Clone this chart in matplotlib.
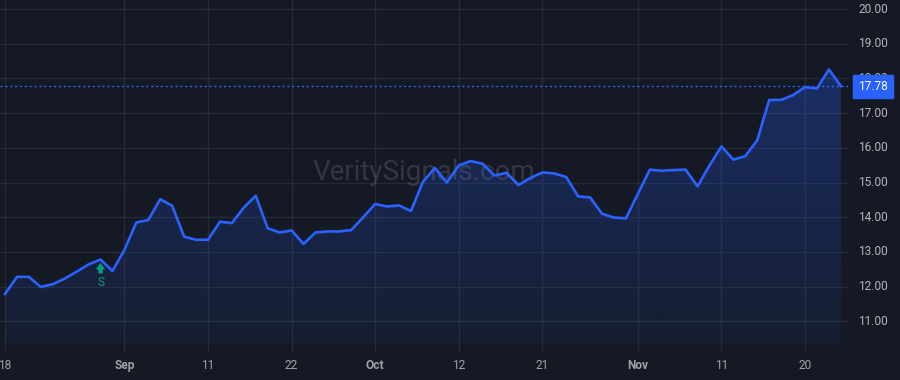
import matplotlib
matplotlib.use("Agg")
import matplotlib.pyplot as plt
import numpy as np
from matplotlib.patches import Polygon

plt.rcParams['font.family'] = ['Roboto', 'DejaVu Sans']

# ---- data ----
prices = [11.79, 12.28, 12.28, 11.99, 12.07, 12.23, 12.43, 12.64, 12.78, 12.45,
          13.06, 13.85, 13.92, 14.52, 14.33, 13.44, 13.35, 13.35, 13.87, 13.83,
          14.28, 14.62, 13.68, 13.56, 13.62, 13.23, 13.56, 13.59, 13.59, 13.63,
          14.00, 14.38, 14.31, 14.34, 14.18, 15.02, 15.42, 15.00, 15.49, 15.62,
          15.54, 15.20, 15.28, 14.93, 15.13, 15.29, 15.26, 15.16, 14.60, 14.57,
          14.10, 13.99, 13.97, 14.67, 15.37, 15.34, 15.36, 15.37, 14.89, 15.49,
          16.04, 15.66, 15.76, 16.22, 17.38, 17.38, 17.52, 17.75, 17.71, 18.26,
          17.78]
x_tick_index = [0, 10, 17, 24, 31, 38, 45, 53, 60, 67]
x_tick_labels = ["18", "Sep", "11", "22", "Oct", "12", "21", "Nov", "11", "20"]
month_labels = {"Sep", "Oct", "Nov"}
y_ticks = [11, 12, 13, 14, 15, 16, 17, 18, 19, 20]
last_price = 17.78
signal_index = 8
signal_label = "S"
watermark = "VeritySignals.com"

BG = '#151924'
GRID = '#252a36'
BLUE = '#2962ff'
GREEN = '#089981'

fig = plt.figure(figsize=(9, 3.8), dpi=100, facecolor=BG)
ax = fig.add_axes([0, (380 - 343) / 380, 848 / 900, 343 / 380])
ax.set_facecolor(BG)

x = np.arange(len(prices))
y = np.array(prices)

XLIM = (-0.42, 70.6)
YLIM = (10.375, 20.26)

# grid
for t in y_ticks:
    ax.axhline(t, color=GRID, lw=1, zorder=0)
for t in x_tick_index:
    ax.axvline(t, color=GRID, lw=1, zorder=0)

# gradient fill under the line
y0 = YLIM[0]
verts = [(x[0], y0)] + list(zip(x, y)) + [(x[-1], y0)]
poly = Polygon(verts, closed=True, facecolor='none', edgecolor='none')
ax.add_patch(poly)
grad = np.linspace(0.30, 0.06, 256).reshape(-1, 1)
rgba = np.zeros((256, 1, 4))
rgba[..., 0] = 41 / 255
rgba[..., 1] = 98 / 255
rgba[..., 2] = 1.0
rgba[..., 3] = grad
im = ax.imshow(rgba, extent=[x[0], x[-1], y0, 18.3], origin='upper',
               aspect='auto', zorder=1, interpolation='bilinear')
im.set_clip_path(poly)

ax.plot(x, y, color=BLUE, lw=1.9, zorder=3)

# last price line
ax.axhline(last_price, color=BLUE, lw=1, ls=(0, (1.5, 2)), zorder=2)

ax.set_xlim(*XLIM)
ax.set_ylim(*YLIM)

for s in ax.spines.values():
    s.set_visible(False)
ax.set_xticks([])
ax.set_yticks([])

# y labels on right
for t in y_ticks:
    ax.annotate(f"{t:.2f}", xy=(1, t), xycoords=('axes fraction', 'data'),
                xytext=(7.3, 0), textcoords='offset points', fontsize=8.6,
                color='#b2b5be', va='center', ha='left', annotation_clip=False)

# price box
ax.annotate(f"{last_price:.2f}", xy=(1, last_price), xycoords=('axes fraction', 'data'),
            xytext=(7.3, 0), textcoords='offset points', fontsize=8.6,
            color='white', va='center', ha='left', annotation_clip=False,
            bbox=dict(boxstyle='square,pad=0.42', fc=BLUE, ec=BLUE), zorder=10)

# x labels and tick marks
for t, lab in zip(x_tick_index, x_tick_labels):
    ax.annotate(lab, xy=(t, 0), xycoords=('data', 'axes fraction'),
                xytext=(0, -16.5), textcoords='offset points', fontsize=8.6,
                color='#9ea2ab', va='center', ha='center',
                fontweight='bold' if lab in month_labels else 'normal',
                annotation_clip=False)
    ax.plot([t, t], [0, -0.026], transform=ax.get_xaxis_transform(),
            color=GRID, lw=1, clip_on=False)

# watermark
ax.text(0.5, (343 - 172) / 343, watermark, transform=ax.transAxes,
        fontsize=20, color='#8a8f9c', alpha=0.25, ha='center', va='center', zorder=2)

# signal marker
sy = prices[signal_index]
ax.annotate('', xy=(signal_index, sy - 0.09), xytext=(signal_index, sy - 0.40),
            arrowprops=dict(arrowstyle='simple,head_length=0.45,head_width=0.62,tail_width=0.3',
                            mutation_scale=11, fc=GREEN, ec=GREEN, lw=0,
                            shrinkA=0, shrinkB=0), zorder=5)
ax.text(signal_index, sy - 0.67, signal_label, color=GREEN,
        fontsize=8.6, ha='center', va='center', zorder=5)

fig.savefig('out.png', dpi=100, facecolor=BG)
